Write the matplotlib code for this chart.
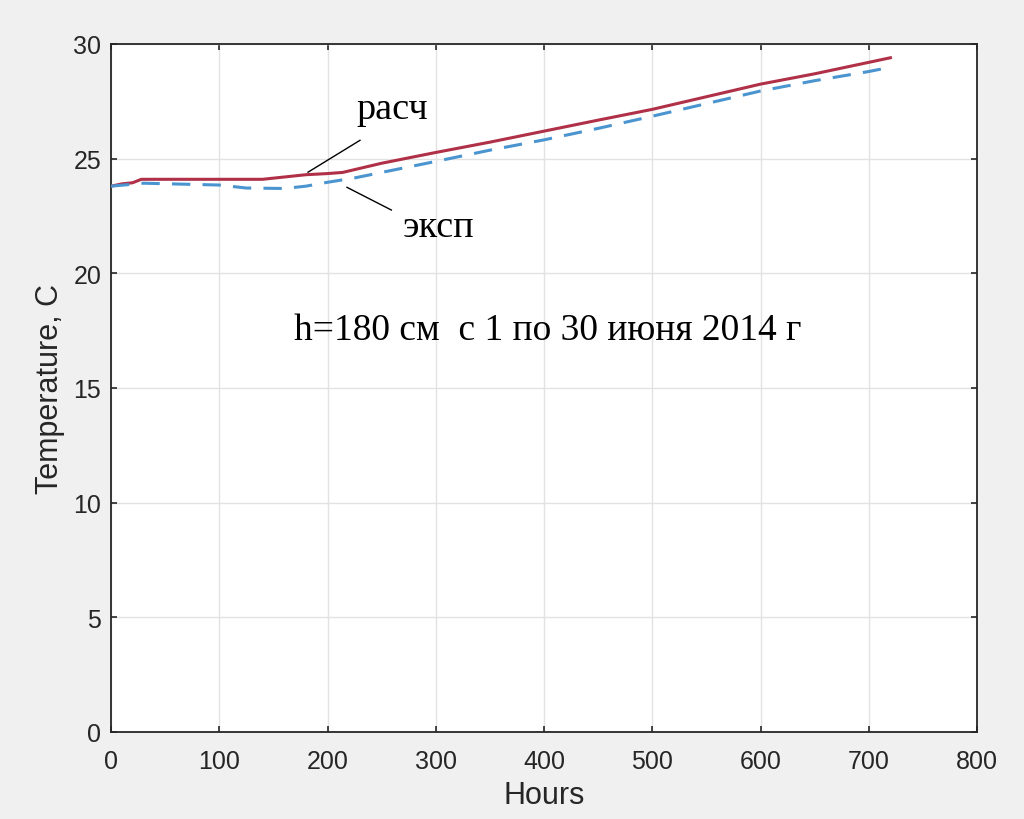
import matplotlib
matplotlib.use('Agg')
import matplotlib.pyplot as plt

# Data
calc_hours = [0, 10, 20, 28, 100, 140, 160, 180, 200, 214, 250, 300, 350, 400,
              450, 500, 550, 600, 650, 700, 720]
calc_temp = [23.8, 23.9, 23.95, 24.1, 24.1, 24.1, 24.2, 24.3, 24.35, 24.4, 24.8,
             25.27, 25.72, 26.2, 26.68, 27.15, 27.7, 28.25, 28.7, 29.2, 29.4]

exp_hours = [0, 30, 100, 125, 160, 180, 200, 225, 250, 300, 350, 400, 450,
             500, 550, 600, 650, 700, 716]
exp_temp = [23.8, 23.93, 23.85, 23.72, 23.7, 23.8, 23.97, 24.16, 24.4, 24.88,
            25.37, 25.82, 26.32, 26.85, 27.4, 27.95, 28.4, 28.8, 28.95]

x_ticks = [0, 100, 200, 300, 400, 500, 600, 700, 800]
y_ticks = [0, 5, 10, 15, 20, 25, 30]

matplotlib.rcParams['font.family'] = 'sans-serif'
matplotlib.rcParams['font.sans-serif'] = ['Liberation Sans']

fig = plt.figure(figsize=(10.24, 8.2), dpi=100, facecolor='#f0f0f0')
ax = fig.add_axes([111 / 1024, 1 - 733 / 820, 866 / 1024, 688 / 820])
ax.set_facecolor('white')

ax.plot(calc_hours, calc_temp, color='#b03048', lw=2.2, zorder=3)
ax.plot(exp_hours, exp_temp, color='#4a94d0', lw=2.2, dashes=(6, 4), zorder=3)

ax.set_xlim(0, 800)
ax.set_ylim(0, 30)
ax.set_xticks(x_ticks)
ax.set_yticks(y_ticks)
ax.grid(True, color='#e2e2e2', lw=1)
ax.set_axisbelow(True)

for s in ax.spines.values():
    s.set_color('#262626')
    s.set_linewidth(1.3)
ax.tick_params(direction='in', length=4, width=1.2, top=True, right=True,
               labelsize=18, colors='#262626')
ax.tick_params(axis='x', pad=12)
ax.tick_params(axis='y', pad=7)

ax.set_xlabel('Hours', fontsize=22, color='#262626', labelpad=5)
ax.set_ylabel('Temperature, C', fontsize=22, color='#262626', labelpad=6)

# Annotations
serif = ['Liberation Serif', 'DejaVu Serif']
ax.text(169.3, 17.14, 'h=180 см  с 1 по 30 июня 2014 г', family=serif,
        fontsize=27, ha='left', va='baseline', color='black')
ax.text(227, 26.78, 'расч', family=serif, fontsize=27.5, ha='left',
        va='baseline', color='black')
ax.text(269.5, 21.63, 'эксп', family=serif, fontsize=27.5, ha='left',
        va='baseline', color='black')
ax.plot([182, 230], [24.41, 25.8], color='black', lw=1, zorder=4)
ax.plot([218, 259], [23.75, 22.76], color='black', lw=1, zorder=4)

fig.savefig('out.png', dpi=100, facecolor=fig.get_facecolor())
